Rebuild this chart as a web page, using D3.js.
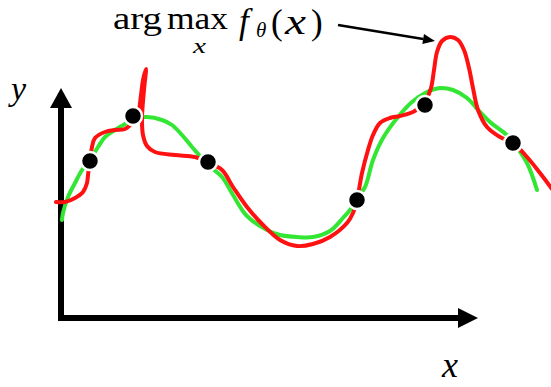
<!DOCTYPE html>
<html>
<head>
<meta charset="utf-8">
<script src="https://cdn.jsdelivr.net/npm/d3@7"></script>
<style>
  html, body { margin: 0; padding: 0; background: #fff; }
  svg { display: block; }
</style>
</head>
<body>
<div id="chart"></div>
<script>
// True (smooth) function: x, y values
const trueX = [0, 1, 6, 13, 20, 28, 36, 43, 53, 63, 71, 85, 100, 110, 120, 130, 138, 146, 160, 171, 185, 205, 218, 235, 251, 268, 281, 288, 295, 303, 311, 321, 336, 350, 365, 378, 391, 405, 418, 428, 445, 451, 465, 475];
const trueY = [98, 105, 121, 135, 148, 158, 171, 181, 188, 194, 199, 201, 198, 193, 183, 171, 162, 153, 141, 123, 102, 88, 83, 81, 81, 87, 100, 108, 120, 131, 158, 180, 201, 216, 226, 230, 228, 220, 206, 196, 183, 176, 155, 128];

// Fitted model f_theta(x): x, y values (ordered along the curve)
const fitX = [-6, 3, 13, 21, 25, 26, 28, 30, 33, 43, 53, 63, 71, 76, 79, 81, 84, 82, 80, 81, 85, 93, 113, 133, 145, 160, 171, 185, 201, 218, 235, 251, 268, 285, 291, 295, 300, 306, 311, 318, 328, 338, 351, 358, 364, 369, 372, 375, 380, 388, 396, 402, 407, 411, 416, 425, 438, 451, 465, 478, 490];
const fitY = [116, 116, 120, 126, 135, 143, 157, 171, 180, 186, 188, 189, 196, 204, 223, 238, 249, 228, 200, 183, 172, 166, 163, 161, 156, 148, 131, 111, 93, 78, 72, 74, 81, 95, 105, 118, 145, 168, 183, 195, 200, 202, 206, 211, 218, 230, 248, 266, 277, 281, 278, 268, 250, 230, 208, 191, 181, 175, 161, 145, 129];

// Observed samples
const obsX = [28, 71, 146, 295, 363, 451];
const obsY = [157, 202, 156, 118, 213, 175];

const W = 551, H = 387;
const svg = d3.select("#chart").append("svg").attr("width", W).attr("height", H);

const x = d3.scaleLinear().domain([0, 416]).range([62, 478]);
const y = d3.scaleLinear().domain([0, 230]).range([318, 88]);

const RED = "#ff1111", GREEN = "#33e633";

// Axes
const ax0 = x(-1), ay0 = y(0);
svg.append("path")
  .attr("d", `M${ax0},${y(212)} L${ax0},${ay0} L${x(400)},${ay0}`)
  .attr("fill", "none").attr("stroke", "#000").attr("stroke-width", 6)
  .attr("stroke-linejoin", "miter");
// y arrow head
svg.append("path")
  .attr("d", `M${ax0},${y(230)} L${ax0 - 11},${y(210)} L${ax0 + 11},${y(210)} Z`)
  .attr("fill", "#000");
// x arrow head
svg.append("path")
  .attr("d", `M${x(416)},${ay0} L${x(396)},${ay0 - 10} L${x(396)},${ay0 + 10} Z`)
  .attr("fill", "#000");

// Curves
const line = d3.line().x(d => x(d[0])).y(d => y(d[1])).curve(d3.curveCatmullRom.alpha(0.5));
svg.append("path")
  .attr("d", line(trueX.map((v, i) => [v, trueY[i]])))
  .attr("fill", "none").attr("stroke", GREEN).attr("stroke-width", 4)
  .attr("stroke-linecap", "round");
svg.append("path")
  .attr("d", line(fitX.map((v, i) => [v, fitY[i]])))
  .attr("fill", "none").attr("stroke", RED).attr("stroke-width", 4)
  .attr("stroke-linecap", "round").attr("stroke-linejoin", "round");

// Points
svg.selectAll("circle.obs").data(obsX.map((v, i) => [v, obsY[i]])).enter()
  .append("circle").attr("class", "obs")
  .attr("cx", d => x(d[0])).attr("cy", d => y(d[1])).attr("r", 9)
  .attr("fill", "#000").attr("stroke", "#fff").attr("stroke-width", 2.5);

// Axis labels
const serif = "'Liberation Serif', 'DejaVu Serif', serif";
svg.append("text").attr("x", 11).attr("y", 100).attr("font-family", serif)
  .attr("font-style", "italic").attr("font-size", 34).attr("fill", "#000").text("y");
svg.append("text").attr("x", 442).attr("y", 377).attr("font-family", serif)
  .attr("font-style", "italic").attr("font-size", 36).attr("fill", "#000").text("x");

// Annotation: arg max_x f_θ(x)
const t = svg.append("g").attr("font-family", serif).attr("fill", "#000");
t.append("text").attr("x", 113).attr("y", 29).attr("font-size", 32)
  .attr("textLength", 49).attr("lengthAdjust", "spacingAndGlyphs").text("arg");
t.append("text").attr("x", 167).attr("y", 29).attr("font-size", 32)
  .attr("textLength", 61).attr("lengthAdjust", "spacingAndGlyphs").text("max");
t.append("text").attr("x", 193).attr("y", 53).attr("font-size", 21)
  .attr("font-style", "italic").attr("textLength", 13).attr("lengthAdjust", "spacingAndGlyphs").text("x");
t.append("text").attr("x", 239).attr("y", 33).attr("font-size", 35)
  .attr("font-style", "italic").text("f");
t.append("text").attr("x", 256).attr("y", 37).attr("font-size", 21)
  .attr("font-style", "italic").text("θ");
t.append("text").attr("x", 271).attr("y", 34).attr("font-size", 35).text("(");
t.append("text").attr("x", 285).attr("y", 34).attr("font-size", 35)
  .attr("font-style", "italic").attr("textLength", 21).attr("lengthAdjust", "spacingAndGlyphs").text("x");
t.append("text").attr("x", 311).attr("y", 34).attr("font-size", 35).text(")");

// Annotation arrow pointing to the max of f_theta
const pk = [388, 281];
const tip = [x(pk[0]) - 15, y(pk[1]) + 4];
const start = [338, 25];
const ang = Math.atan2(tip[1] - start[1], tip[0] - start[0]);
const hl = 12, hw = 5;
const bx = tip[0] - hl * Math.cos(ang), by = tip[1] - hl * Math.sin(ang);
svg.append("line").attr("x1", start[0]).attr("y1", start[1]).attr("x2", bx).attr("y2", by)
  .attr("stroke", "#000").attr("stroke-width", 2.5);
svg.append("path")
  .attr("d", `M${tip[0]},${tip[1]} L${bx - hw * Math.sin(ang)},${by + hw * Math.cos(ang)} L${bx + hw * Math.sin(ang)},${by - hw * Math.cos(ang)} Z`)
  .attr("fill", "#000");
</script>
</body>
</html>
